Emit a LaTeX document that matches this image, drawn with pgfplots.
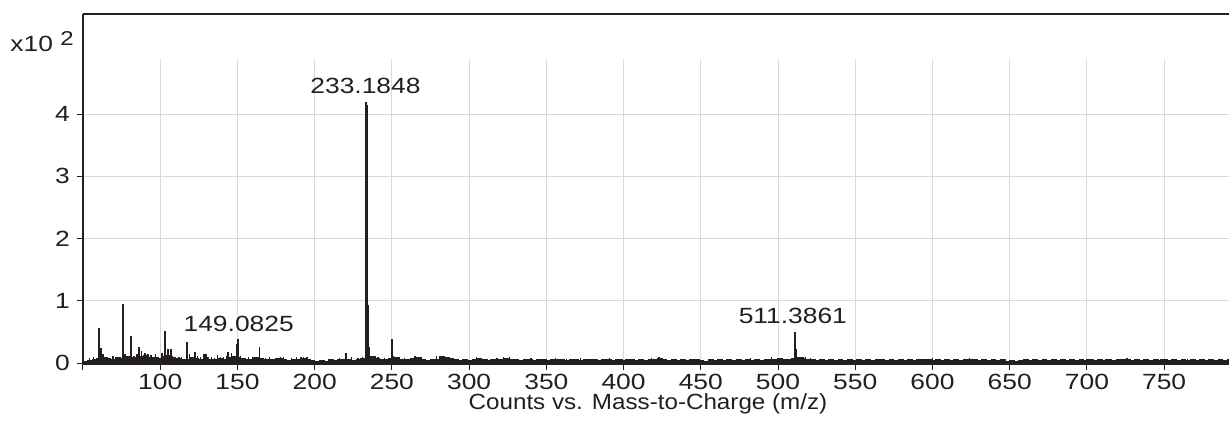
\documentclass[border=0pt]{standalone}
\usepackage{pgfplots}
\pgfplotsset{compat=1.18}
\usepackage{pgfplotstable}
\usepackage{fontspec}
\setmainfont{Liberation Sans}[FakeStretch=1.1]
\newfontfamily\numfont{Liberation Sans}[FakeStretch=1.2]
\definecolor{ink}{HTML}{231F20}
\definecolor{gridc}{HTML}{D9D9D9}

\pgfplotstableread{
x y
50 .03
53 .04
56 .05
59 .07
62 .09
65 .07
68 .06
71 .09
74 .07
77 .10
80 .08
83 .09
86 .11
89 .12
92 .09
95 .08
98 .07
101 .10
104 .12
107 .09
110 .07
113 .05
116 .06
119 .08
122 .07
125 .05
128 .09
131 .06
134 .05
137 .07
140 .06
143 .08
146 .10
149 .09
152 .07
155 .05
158 .06
161 .08
164 .07
167 .05
170 .06
173 .05
176 .07
179 .06
182 .04
185 .06
188 .05
191 .07
194 .06
197 .04
200 .03
203 .04
206 .03
209 .05
212 .04
215 .05
218 .06
221 .05
224 .04
227 .05
230 .07
233 .09
236 .10
239 .07
242 .05
245 .06
248 .07
251 .08
254 .06
257 .05
260 .06
263 .07
266 .09
269 .05
272 .04
275 .05
278 .06
281 .10
284 .09
287 .07
290 .05
293 .04
296 .05
299 .04
302 .05
305 .07
308 .05
311 .04
314 .05
317 .06
320 .05
323 .07
326 .06
329 .05
332 .04
335 .06
338 .05
341 .04
344 .05
347 .06
350 .04
353 .05
356 .06
359 .05
362 .04
365 .05
368 .06
371 .04
374 .05
377 .06
380 .05
383 .04
386 .06
389 .05
392 .04
395 .05
398 .04
401 .05
404 .06
407 .04
410 .05
413 .04
416 .05
419 .06
422 .07
425 .05
428 .04
431 .05
434 .04
437 .05
440 .04
443 .05
446 .06
449 .04
452 .03
455 .05
458 .04
461 .05
464 .04
467 .05
470 .04
473 .05
476 .04
479 .05
482 .04
485 .05
488 .04
491 .05
494 .06
497 .05
500 .07
503 .06
506 .05
509 .07
512 .09
515 .07
518 .06
521 .05
524 .04
527 .05
530 .04
533 .05
536 .04
539 .05
542 .04
545 .05
548 .04
551 .05
554 .04
557 .05
560 .04
563 .05
566 .05
569 .04
572 .05
575 .04
578 .05
581 .04
584 .05
587 .04
590 .05
593 .06
596 .05
599 .04
602 .05
605 .04
608 .05
611 .04
614 .05
617 .04
620 .05
623 .06
626 .05
629 .04
632 .05
635 .04
638 .05
641 .04
644 .05
647 .03
650 .04
653 .03
656 .04
659 .05
662 .04
665 .05
668 .04
671 .05
674 .04
677 .05
680 .04
683 .05
686 .04
689 .05
692 .04
695 .05
698 .04
701 .05
704 .04
707 .05
710 .04
713 .05
716 .04
719 .05
722 .06
725 .05
728 .04
731 .05
734 .04
737 .05
740 .04
743 .05
746 .04
749 .05
752 .04
755 .05
758 .04
761 .05
764 .04
767 .05
770 .04
773 .05
776 .04
779 .05
782 .04
785 .05
788 .04
791 .05
793 .04
}\noise

\pgfplotstableread{
x y
54 .08
57 .10
66 .10
72 .09
79 .12
85 .15
94 .13
99 .10
108 .12
110 .10
114 .09
121 .10
124 .11
126 .09
133 .10
135 .08
139 .09
143 .12
146 .16
155 .08
157 .09
162 .10
168 .08
171 .09
175 .08
180 .09
185 .08
188 .09
193 .10
195 .09
210 .07
216 .08
224 .09
228 .08
238 .10
241 .09
245 .08
255 .09
258 .08
262 .08
270 .07
279 .12
284 .10
287 .08
292 .07
305 .09
312 .07
318 .08
322 .09
326 .09
331 .07
340 .08
347 .07
356 .08
363 .07
372 .08
380 .07
391 .08
399 .07
410 .07
418 .08
423 .09
432 .07
445 .07
458 .07
470 .07
482 .08
496 .09
503 .08
518 .09
521 .08
530 .07
545 .07
560 .07
575 .07
590 .07
600 .08
611 .07
640 .07
660 .07
680 .07
700 .07
712 .07
738 .07
748 .07
765 .07
780 .07
}\spikes

\pgfplotstableread{
x y
60.3 0.57
61.5 0.24
63.0 0.15
69.5 0.12
75.8 0.95
77.0 0.14
81.0 0.44
83.0 0.12
86.3 0.25
88.0 0.20
90.0 0.16
92.0 0.14
97.0 0.15
101.0 0.16
103.2 0.52
105.0 0.22
106.8 0.22
112.0 0.10
117.5 0.34
119.0 0.14
122.7 0.17
128.5 0.14
129.7 0.14
137.0 0.13
141.0 0.10
144.0 0.18
149.6 0.30
150.3 0.38
152.0 0.12
160.0 0.10
164.2 0.25
178.0 0.10
191.0 0.09
220.3 0.16
231.0 0.10
232.8 4.05
233.3 4.20
233.8 4.15
234.3 4.00
234.9 0.93
235.5 0.25
236.4 0.12
250.2 0.38
251.0 0.12
265.0 0.12
281.0 0.11
283.0 0.10
306.0 0.08
424.0 0.08
511.1 0.50
511.9 0.22
514.0 0.10
516.0 0.09
624.0 0.08
726.0 0.08
756.0 0.07
}\peaks

\begin{document}
\begin{tikzpicture}[font=\fontsize{11}{13}\selectfont]
\begin{axis}[name=ax, scale only axis, width=573pt, height=175pt,
  xmin=50, xmax=792, ymin=-0.016, ymax=5.607,
  axis x line*=bottom, axis y line*=left,
  axis line style={ink, line width=1.1pt},
  xtick={50,100,150,200,250,300,350,400,450,500,550,600,650,700,750},
  xticklabels={,100,150,200,250,300,350,400,450,500,550,600,650,700,750},
  ytick={0,1,2,3,4},
  /pgf/number format/assume math mode=true,
  tick align=outside, major tick length=3pt,
  tick style={ink, line width=0.5pt},
  ticklabel style={text=ink, font=\numfont\fontsize{11}{13}\selectfont},
  xticklabel style={yshift=1.5pt},
  ymajorgrids, grid style={gridc, line width=0.5pt},
  clip mode=individual,
]
\pgfplotsinvokeforeach{100,150,200,250,300,350,400,450,500,550,600,650,700,750}{
  \draw[gridc, line width=0.5pt] (axis cs:#1,0) -- (axis cs:#1,4.88);
}
\addplot[const plot, draw=ink, fill=ink, line width=0.6pt] table[x=x,y=y] {\noise} \closedcycle;
\addplot[ycomb, draw=ink, line width=0.6pt, mark=none] table[x=x,y=y] {\spikes};
\addplot[ycomb, draw=ink, line width=0.8pt, mark=none] table[x=x,y=y] {\peaks};
\draw[ink, line width=1pt] (rel axis cs:0,1) -- (rel axis cs:1,1);
\node[anchor=base, inner sep=0, text=ink, font=\numfont\fontsize{11}{13}\selectfont] at (axis cs:232.9,4.2) [yshift=4pt] {233.1848};
\node[anchor=base, inner sep=0, text=ink, font=\numfont\fontsize{11}{13}\selectfont] at (axis cs:150.8,0.38) [yshift=4pt] {149.0825};
\node[anchor=base, inner sep=0, text=ink, font=\numfont\fontsize{11}{13}\selectfont] at (axis cs:509.6,0.50) [yshift=4pt] {511.3861};
\node[anchor=base west, inner sep=0, text=ink, font=\numfont\fontsize{11}{13}\selectfont] at (rel axis cs:0,1) [xshift=-36.5pt, yshift=-19pt] {x10 \raisebox{3pt}{\fontsize{10}{12}\selectfont 2}};
\node[anchor=base, inner sep=0, text=ink] at (rel axis cs:0.493,0) [yshift=-23pt] {Counts vs. Mass-to-Charge (m/z)};
\end{axis}
\pgfresetboundingbox
\path[use as bounding box] ([xshift=-41.5pt,yshift=-28.5pt]ax.south west) rectangle ([yshift=7pt]ax.north east);
\end{tikzpicture}
\end{document}
